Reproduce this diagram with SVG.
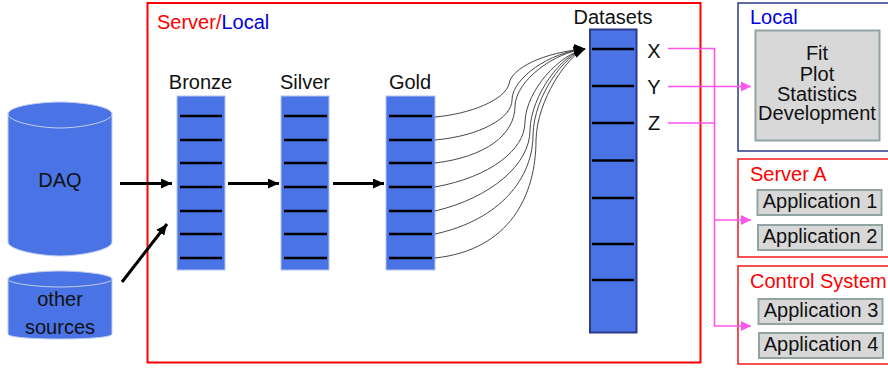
<svg xmlns="http://www.w3.org/2000/svg" width="888" height="368" viewBox="0 0 888 368">
<defs>
<marker id="bk" markerUnits="userSpaceOnUse" markerWidth="12" markerHeight="10" refX="11" refY="5" orient="auto"><path d="M0,0L11,5L0,10z" fill="#000"/></marker>
<marker id="pk" markerUnits="userSpaceOnUse" markerWidth="11" markerHeight="10" refX="10" refY="5" orient="auto"><path d="M0,0L10,5L0,10z" fill="#ff55ee"/></marker>
</defs>
<style>
text{font-family:"Liberation Sans",Arial,sans-serif;font-size:20px;fill:#111;text-anchor:middle}
.t{text-anchor:start}
.col{fill:#4a74e6;stroke:#b4c4ee;stroke-width:1}
.ds{fill:#4a74e6;stroke:#2c3a88;stroke-width:2}
.cyl{fill:#4a74e6;stroke:#c4d0f0;stroke-width:1}
.rule{stroke:#000;stroke-width:2.4}
.gray{fill:#d8d8d8;stroke:#90a4a4;stroke-width:2}
.red{fill:#fff;stroke:#f01818;stroke-width:1.5}
.c{fill:none;stroke:#333;stroke-width:.9}
.a{fill:none;stroke:#000;stroke-width:3;marker-end:url(#bk)}
.p{fill:none;stroke:#ff55ee;stroke-width:1.6}
.r{fill:#f00}
</style>
<g id="server-local"><rect x="147.500" y="3" width="553" height="359.500" fill="#fff" stroke="#f00" stroke-width="2"/>
<text class="t" x="157" y="29"><tspan fill="#f00">Server/</tspan><tspan fill="#00d">Local</tspan></text></g>
<g id="daq"><path class="cyl" d="M8,114V242C8,250 40,256 60,256C80,256 112,250 112,242V114C112,106 80,102 60,102C40,102 8,106 8,114Z"/>
<path class="cyl" fill="none" d="M8,114C8,122 40,128 60,128C80,128 112,122 112,114"/><text x="60" y="187">DAQ</text></g>
<g id="other-sources"><path class="cyl" d="M8,279V334C8,338 40,339 60,339C80,339 112,338 112,334V279C112,274 80,271 60,271C40,271 8,274 8,279Z"/>
<path class="cyl" fill="none" d="M8,279C8,284 40,287 60,287C80,287 112,284 112,279"/><text x="60" y="306">other</text><text x="60" y="334">sources</text></g>
<g id="bronze"><text x="200.500" y="89">Bronze</text><rect class="col" x="177" y="96" width="48" height="174"/>
<path class="rule" d="M180,116H222M180,140H222M180,163H222M180,187H222M180,211H222M180,234H222M180,258H222"/></g>
<g id="silver"><text x="305" y="89">Silver</text><rect class="col" x="281" y="96" width="48" height="174"/>
<path class="rule" d="M284,116H327M284,140H327M284,163H327M284,187H327M284,211H327M284,234H327M284,258H327"/></g>
<g id="gold"><text x="410" y="89">Gold</text><rect class="col" x="386" y="96" width="49" height="174"/>
<path class="rule" d="M389,116H432M389,140H432M389,163H432M389,187H432M389,211H432M389,234H432M389,258H432"/></g>
<g id="datasets"><text x="613" y="24">Datasets</text><rect class="ds" x="590" y="29.500" width="46.500" height="303"/>
<path class="rule" d="M592,49H634M592,86H634M592,123H634M592,160.500H634M592,198H634M592,244H634M592,280H634"/>
<text x="654" y="58">X</text><text x="654" y="94">Y</text><text x="654" y="130">Z</text></g>
<g id="local"><rect x="738" y="3" width="160" height="148" fill="#fff" stroke="#2c3a88" stroke-width="1.500"/><text class="t" x="750" y="24" fill="#00d" style="fill:#0000e0">Local</text>
<rect class="gray" x="755.500" y="30.500" width="124" height="110"/><text x="817" y="60">Fit</text><text x="817" y="81">Plot</text><text x="817" y="101">Statistics</text><text x="817" y="120">Development</text></g>
<g id="server-a"><rect class="red" x="738" y="159" width="160" height="98"/><text class="t" x="750" y="181" style="fill:#f00">Server A</text>
<rect class="gray" x="757.500" y="190" width="124" height="25"/><text x="820" y="208">Application 1</text><rect class="gray" x="758" y="225" width="124" height="25"/><text x="820" y="243">Application 2</text></g>
<g id="control-system"><rect class="red" x="738" y="266" width="160" height="98"/><text class="t" x="750" y="288" style="fill:#f00">Control System</text>
<rect class="gray" x="758.500" y="299" width="124" height="25"/><text x="821" y="317">Application 3</text><rect class="gray" x="759" y="333" width="124" height="25"/><text x="821" y="351">Application 4</text></g>
<g id="connectors">
<path class="a" d="M120,183.500H172"/><path class="a" d="M122,282L167,224"/><path class="a" d="M228,183.500H279"/><path class="a" d="M333,183.500H384"/>
<g marker-end="url(#bk)"><path class="c" d="M435,117C470,114 505,100 509,84C511,68 545,52 585,49"/><path class="c" d="M435,140C480,136 512,118 512,100C512,78 550,52 585,49"/><path class="c" d="M435,163C485,157 515,135 515,106C516,80 555,52 585,49"/><path class="c" d="M435,187C490,177 525,150 525,122C526,90 560,54 585,49"/><path class="c" d="M435,211C490,198 530,165 530,130C531,95 562,54 585,49"/><path class="c" d="M435,234C500,220 533,178 533,135C534,95 565,55 585,49"/><path class="c" d="M435,258C510,250 536,195 536,140C537,100 567,56 585,49"/>
</g>
<path d="M574,44L586,49L574,54z" fill="#000"/>
<path class="p" d="M668,48.500H714.500V326H751" marker-end="url(#pk)"/><path class="p" d="M668,86.500H751" marker-end="url(#pk)"/><path class="p" d="M668,123H714.500M714.500,220H751" marker-end="url(#pk)"/>
</g>
</svg>
